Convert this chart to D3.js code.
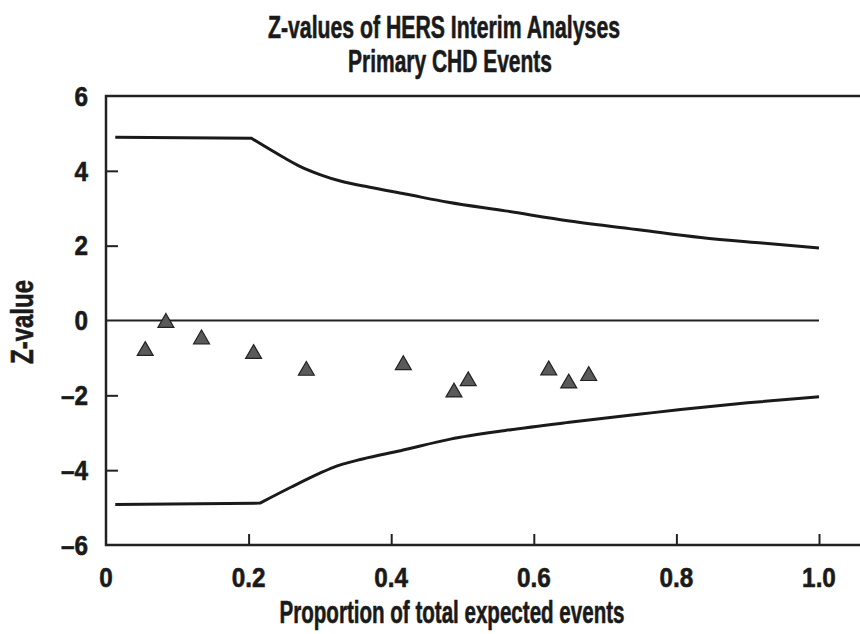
<!DOCTYPE html>
<html>
<head>
<meta charset="utf-8">
<script src="https://cdn.jsdelivr.net/npm/d3@7"></script>
<style>
  body { margin: 0; background: #fff; }
  text { font-family: "Liberation Sans", Arial, sans-serif; font-weight: bold; fill: #1a1a1a; stroke: #1a1a1a; stroke-width: 0.6px; }
</style>
</head>
<body>
<div id="chart"></div>
<script>
const width = 860;
const height = 634;

// boundary curves (proportion of events, z)
const upperT = [0.013, 0.204, 0.248, 0.272, 0.30, 0.33, 0.37, 0.42, 0.48, 0.56, 0.65, 0.75, 0.834, 0.92, 1.0];
const upperZ = [4.90, 4.87, 4.37, 4.12, 3.90, 3.72, 3.56, 3.38, 3.16, 2.93, 2.66, 2.42, 2.22, 2.07, 1.94];
const lowerT = [0.013, 0.216, 0.26, 0.30, 0.318, 0.36, 0.413, 0.483, 0.56, 0.65, 0.75, 0.806, 0.9, 1.0];
const lowerZ = [-4.92, -4.88, -4.45, -4.08, -3.93, -3.70, -3.48, -3.17, -2.94, -2.72, -2.50, -2.38, -2.20, -2.04];

// interim analyses
const looksT = [0.055, 0.084, 0.134, 0.207, 0.281, 0.417, 0.488, 0.508, 0.621, 0.649, 0.677];
const looksZ = [-0.81, -0.06, -0.50, -0.89, -1.34, -1.19, -1.92, -1.62, -1.33, -1.68, -1.48];

const xTicks = [0.2, 0.4, 0.6, 0.8, 1.0];
const yTicks = [-6, -4, -2, 0, 2, 4, 6];

const x = d3.scaleLinear().domain([0, 1]).range([106, 819]);
const y = d3.scaleLinear().domain([-6, 6]).range([545, 96]);

const svg = d3.select("#chart")
  .append("svg")
  .attr("width", width)
  .attr("height", height);

// frame: left axis, top line, bottom axis
svg.append("path")
  .attr("d", `M${width},${y(6)}H${x(0)}V${y(-6)}H${width}`)
  .attr("fill", "none")
  .attr("stroke", "#222")
  .attr("stroke-width", 2.5);

// zero line
svg.append("line")
  .attr("x1", x(0)).attr("x2", x(1))
  .attr("y1", y(0)).attr("y2", y(0))
  .attr("stroke", "#222")
  .attr("stroke-width", 2);

// y axis ticks (inward)
svg.append("g")
  .attr("transform", `translate(${x(0)},0)`)
  .call(d3.axisRight(y).tickValues(yTicks.filter(d => Math.abs(d) !== 6 && d !== 0)).tickSize(12).tickFormat(""))
  .call(g => g.select(".domain").remove())
  .call(g => g.selectAll("line").attr("stroke", "#222").attr("stroke-width", 2));

svg.append("g")
  .selectAll("text")
  .data(yTicks)
  .enter()
  .append("text")
  .attr("transform", d => `translate(88,${y(d)}) scale(0.9,1)`)
  .attr("dy", "0.36em")
  .attr("text-anchor", "end")
  .style("font-size", "27px")
  .text(d => d < 0 ? "\u2013" + Math.abs(d) : d);

// x axis ticks (inward)
svg.append("g")
  .attr("transform", `translate(0,${y(-6)})`)
  .call(d3.axisTop(x).tickValues(xTicks).tickSize(11).tickFormat(""))
  .call(g => g.select(".domain").remove())
  .call(g => g.selectAll("line").attr("stroke", "#222").attr("stroke-width", 2));

svg.append("g")
  .selectAll("text")
  .data([0].concat(xTicks))
  .enter()
  .append("text")
  .attr("transform", d => `translate(${x(d)},587) scale(0.9,1)`)
  .attr("text-anchor", "middle")
  .style("font-size", "27px")
  .text(d => d === 0 ? "0" : d.toFixed(1));

// boundaries
const line = d3.line()
  .x(d => x(d[0]))
  .y(d => y(d[1]))
  .curve(d3.curveMonotoneX);

[[upperT, upperZ], [lowerT, lowerZ]].forEach(([ts, zs]) => {
  const pts = ts.map((t, i) => [t, zs[i]]);
  // straight flat segment, then smooth curve
  svg.append("path")
    .datum(pts)
    .attr("d", d => "M" + x(d[0][0]) + "," + y(d[0][1]) + line(d.slice(1)).replace(/^M/, "L"))
    .attr("fill", "none")
    .attr("stroke", "#1a1a1a")
    .attr("stroke-width", 3);
});

// triangles
const tri = d3.symbol().type(d3.symbolTriangle).size(110);
svg.append("g")
  .selectAll("path")
  .data(looksT.map((t, i) => [t, looksZ[i]]))
  .enter()
  .append("path")
  .attr("d", tri)
  .attr("transform", d => `translate(${x(d[0])},${y(d[1])})`)
  .attr("fill", "#5a5a5a")
  .attr("stroke", "#222")
  .attr("stroke-width", 1.2);

// titles (condensed face)
function label(txt, px, py, len, rot) {
  svg.append("text")
    .attr("transform", `translate(${px},${py})` + (rot ? " rotate(-90)" : ""))
    .attr("text-anchor", "middle")
    .attr("textLength", len)
    .attr("lengthAdjust", "spacingAndGlyphs")
    .style("font-size", "31px")
    .text(txt);
}

label("Z-values of HERS Interim Analyses", 444, 38, 352);
label("Primary CHD Events", 450, 72, 204);
label("Proportion of total expected events", 452, 623, 345);
label("Z-value", 33, 322, 84, true);
</script>
</body>
</html>
